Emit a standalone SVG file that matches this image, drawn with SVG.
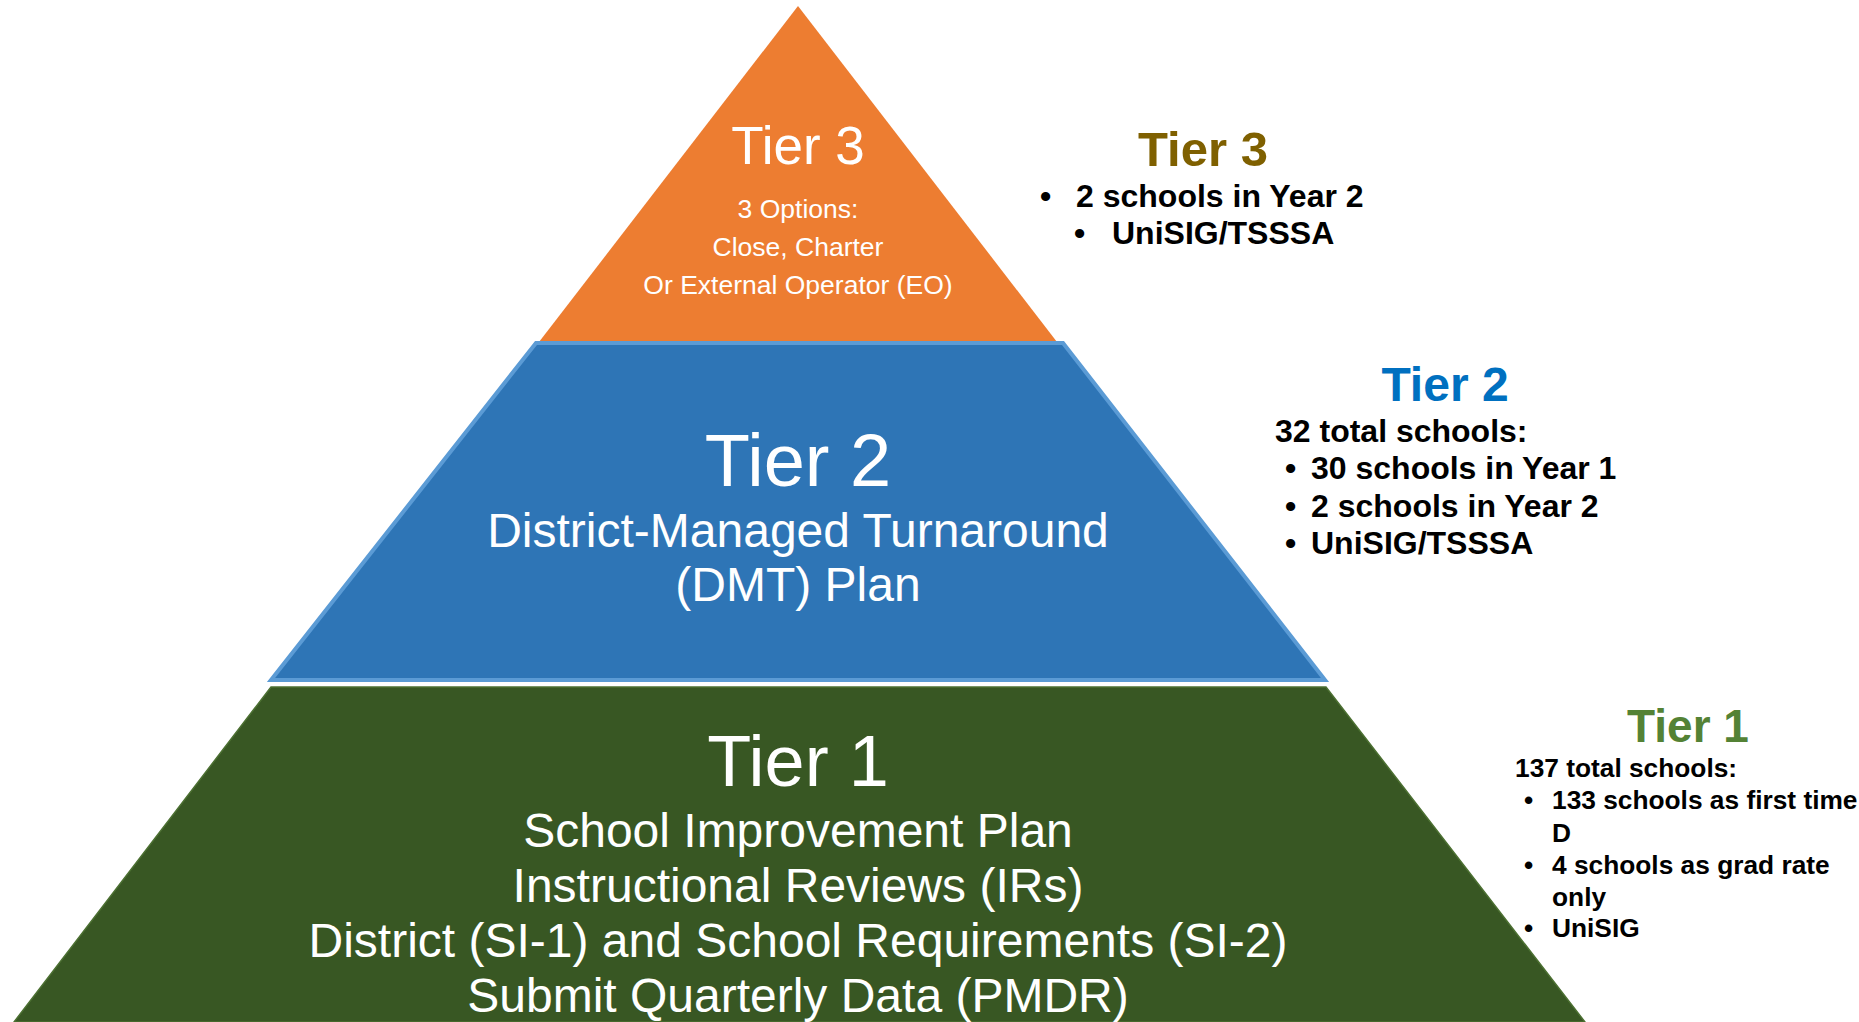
<svg xmlns="http://www.w3.org/2000/svg" width="1859" height="1022" viewBox="0 0 1859 1022">
<style>
.in{font-family:"Liberation Sans",Arial,sans-serif;fill:#fff;text-anchor:middle}
.side{font-family:"Liberation Sans",Arial,sans-serif;font-weight:bold;fill:#000}
.ttl{font-family:"Liberation Sans",Arial,sans-serif;font-weight:bold;text-anchor:middle}
</style>
<rect width="1859" height="1022" fill="#fff"/>
<g id="tier3">
<polygon points="798,6 1057,342 539,342" fill="#ED7D31"/>
<text class="in" x="798" y="164" font-size="53">Tier 3</text>
<text class="in" x="798" y="218" font-size="26.5">3 Options:</text>
<text class="in" x="798" y="256" font-size="26.5">Close, Charter</text>
<text class="in" x="798" y="294" font-size="26.5">Or External Operator (EO)</text>
</g>
<g id="tier2">
<polygon points="536,343 1063,343 1325,680 271,680" fill="#2E75B6" stroke="#5B9BD5" stroke-width="4" stroke-linejoin="miter"/>
<text class="in" x="798" y="486" font-size="74">Tier 2</text>
<text class="in" x="798" y="547" font-size="48">District-Managed Turnaround</text>
<text class="in" x="798" y="601" font-size="48">(DMT) Plan</text>
</g>
<g id="tier1">
<polygon points="271,687 1326,687 1585,1022 14,1022" fill="#385723" stroke="#4C7032" stroke-width="1.5"/>
<text class="in" x="798" y="786" font-size="72">Tier 1</text>
<text class="in" x="798" y="847" font-size="48">School Improvement Plan</text>
<text class="in" x="798" y="902" font-size="48">Instructional Reviews (IRs)</text>
<text class="in" x="798" y="957" font-size="48">District (SI-1) and School Requirements (SI-2)</text>
<text class="in" x="798" y="1012" font-size="48">Submit Quarterly Data (PMDR)</text>
</g>
<g id="tier3-info">
<text class="ttl" x="1203" y="166" font-size="49" fill="#7F6000">Tier 3</text>
<text class="side" font-size="32"><tspan x="1040" y="207">•</tspan><tspan x="1076" y="207">2 schools in Year 2</tspan></text>
<text class="side" font-size="32"><tspan x="1074" y="244">•</tspan><tspan x="1112" y="244">UniSIG/TSSSA</tspan></text>
</g>
<g id="tier2-info">
<text class="ttl" x="1445" y="401" font-size="48" fill="#0070C0">Tier 2</text>
<text class="side" x="1275" y="442" font-size="32">32 total schools:</text>
<text class="side" font-size="32"><tspan x="1285" y="479">•</tspan><tspan x="1311" y="479">30 schools in Year 1</tspan></text>
<text class="side" font-size="32"><tspan x="1285" y="517">•</tspan><tspan x="1311" y="517">2 schools in Year 2</tspan></text>
<text class="side" font-size="32"><tspan x="1285" y="554">•</tspan><tspan x="1311" y="554">UniSIG/TSSSA</tspan></text>
</g>
<g id="tier1-info">
<text class="ttl" x="1688" y="742" font-size="46" fill="#548235">Tier 1</text>
<text class="side" x="1515" y="777" font-size="26.3">137 total schools:</text>
<text class="side" font-size="26.3"><tspan x="1524" y="809">•</tspan><tspan x="1552" y="809">133 schools as first time</tspan></text>
<text class="side" x="1552" y="842" font-size="26.3">D</text>
<text class="side" font-size="26.3"><tspan x="1524" y="874">•</tspan><tspan x="1552" y="874">4 schools as grad rate</tspan></text>
<text class="side" x="1552" y="906" font-size="26.3">only</text>
<text class="side" font-size="26.3"><tspan x="1524" y="937">•</tspan><tspan x="1552" y="937">UniSIG</tspan></text>
</g>
</svg>
